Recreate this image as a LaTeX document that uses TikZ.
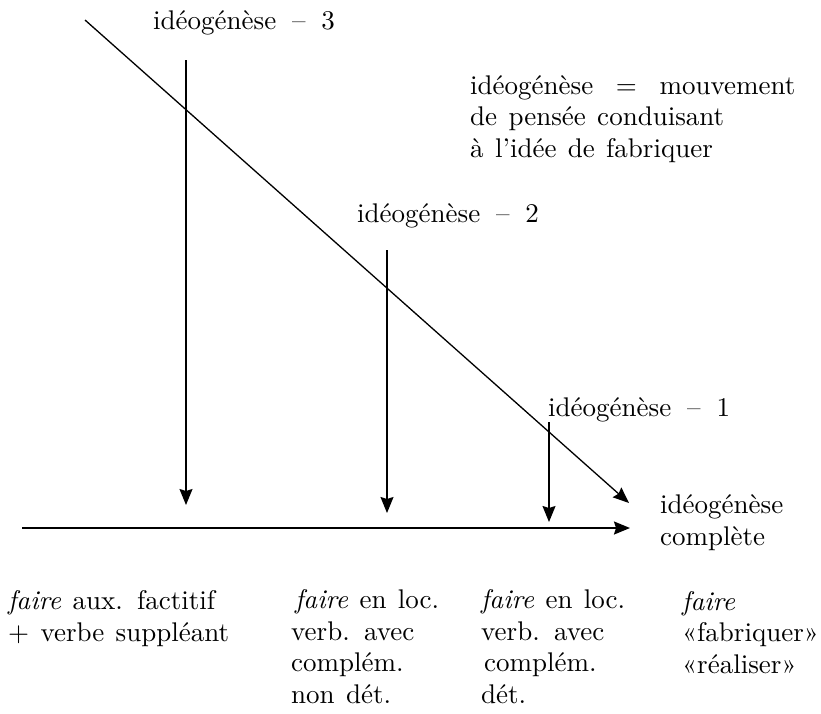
\documentclass[tikz,border=0pt]{standalone}
\usepackage{fontspec}
\setmainfont{lmroman10-regular.otf}[ItalicFont=lmroman10-italic.otf]
\usetikzlibrary{arrows.meta}
\newcommand\diagfont{\fontsize{27}{31.5}\selectfont\spaceskip=0.42em plus 0.1em minus 0.05em\relax}
\tikzset{
  txt/.style={inner sep=0pt, anchor=base west, align=left, font=\diagfont},
  ln/.style={line width=1.3pt, black},
  arr/.style={ln, -{Stealth[length=16pt,width=13pt,inset=2pt]}}
}
\begin{document}
\begin{tikzpicture}[x=1pt,y=-1pt]
\useasboundingbox (0,0) rectangle (821,713);
% coordinates
\coordinate (dA) at (85,20);
\coordinate (dB) at (629,503);
\coordinate (v1a) at (186,60);
\coordinate (v1b) at (186,505);
\coordinate (v2a) at (387,250);
\coordinate (v2b) at (387,513);
\coordinate (v3a) at (549,422);
\coordinate (v3b) at (549,522);
\coordinate (hA) at (22,528);
\coordinate (hB) at (630,528);
% arrows
\draw[arr] (dA) -- (dB);
\draw[arr] (v1a) -- (v1b);
\draw[arr] (v2a) -- (v2b);
\draw[arr] (v3a) -- (v3b);
\draw[arr, line width=1.6pt] (hA) -- (hB);
% labels (base anchor = baseline of the last line)
\node[txt] (i3) at (153,29) {idéogénèse \,–\, 3};
\node[txt] (i2) at (357,222) {idéogénèse \,–\, 2};
\node[txt] (i1) at (548,416) {idéogénèse \,–\, 1};
\node[txt] (def) at (470,157) {idéogénèse \ = \ mouvement\\de pensée conduisant\\à l’idée de fabriquer};
\node[txt] (comp) at (660,545) {idéogénèse\\complète};
\node[txt] (c1) at (8,641) {\textit{faire} aux. factitif\\+ verbe suppléant};
\node[txt] (c2) at (291,703) {\hspace{4pt}\textit{faire} en loc.\\verb. avec\\complém.\\non dét.};
\node[txt] (c3) at (481,703) {\textit{faire} en loc.\\verb. avec\\\hspace{3pt}complém.\\dét.};
\node[txt] (c4) at (682,673) {\textit{faire}\\«fabriquer»\\«réaliser»};
\end{tikzpicture}
\end{document}
